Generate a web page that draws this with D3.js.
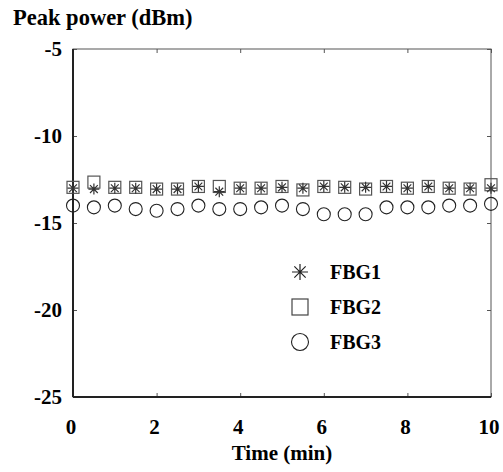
<!DOCTYPE html>
<meta charset="utf-8">
<style>
body { margin: 0; background: #fff; }
</style>
<svg width="503" height="472"></svg>
<script src="https://cdn.jsdelivr.net/npm/d3@7"></script>
<script>

// time axis (minutes) and peak power readings (dBm)
var times = [0, 0.5, 1, 1.5, 2, 2.5, 3, 3.5, 4, 4.5, 5, 5.5, 6, 6.5, 7, 7.5, 8, 8.5, 9, 9.5, 10];
var fbg1 = [-13.0, -13.05, -13.0, -13.0, -13.05, -13.05, -12.9, -13.2, -13.0, -13.0, -12.95,
            -13.0, -12.9, -12.95, -12.95, -12.9, -13.0, -12.9, -13.0, -13.0, -13.0];
var fbg2 = [-12.95, -12.65, -12.95, -12.95, -13.05, -13.05, -12.9, -12.9, -13.0, -13.0, -12.9,
            -13.1, -12.9, -12.95, -13.05, -12.9, -13.0, -12.9, -13.0, -13.05, -12.8];
var fbg3 = [-14.0, -14.1, -14.0, -14.2, -14.3, -14.2, -14.0, -14.2, -14.2, -14.1, -14.0,
            -14.2, -14.5, -14.5, -14.5, -14.1, -14.1, -14.1, -14.0, -14.0, -13.9];
var seriesNames = ["FBG1", "FBG2", "FBG3"];
var xTicks = [0, 2, 4, 6, 8, 10];
var yTicks = [-5, -10, -15, -20, -25];

var FONT = "Liberation Serif";

var svg = d3.select("svg"),
    margin = {top: 49, right: 12, bottom: 75, left: 73},
    width = +svg.attr("width") - margin.left - margin.right,
    height = +svg.attr("height") - margin.top - margin.bottom;

var g = svg.append("g").attr("transform", "translate(" + margin.left + "," + margin.top + ")");

var x = d3.scaleLinear().domain([0, 10]).range([0, width]),
    y = d3.scaleLinear().domain([-25, -5]).range([height, 0]);

// asterisk with 8 arms
function star(r) {
  var d = r * Math.SQRT1_2;
  return "M" + (-r) + ",0L" + r + ",0M0," + (-r) + "L0," + r +
         "M" + (-d) + "," + (-d) + "L" + d + "," + d +
         "M" + (-d) + "," + d + "L" + d + "," + (-d);
}

function label(sel, size) {
  return sel.attr("font-family", FONT).attr("font-weight", "bold")
      .attr("font-size", size).attr("fill", "#000");
}

// frame: thin top/right, heavy left/bottom
g.append("rect").attr("width", width).attr("height", height)
    .attr("fill", "none").attr("stroke", "#555").attr("stroke-width", 1);

// inward ticks on all four sides
g.append("g").attr("transform", "translate(0," + height + ")")
    .call(d3.axisBottom(x).tickValues(xTicks).tickSizeInner(-4).tickSizeOuter(0).tickFormat(""))
    .call(a => a.select(".domain").remove());
g.append("g")
    .call(d3.axisTop(x).tickValues(xTicks).tickSizeInner(-4).tickSizeOuter(0).tickFormat(""))
    .call(a => a.select(".domain").remove());
g.append("g")
    .call(d3.axisLeft(y).tickValues(yTicks).tickSizeInner(-4).tickSizeOuter(0).tickFormat(""))
    .call(a => a.select(".domain").remove());
g.append("g").attr("transform", "translate(" + width + ",0)")
    .call(d3.axisRight(y).tickValues(yTicks).tickSizeInner(-4).tickSizeOuter(0).tickFormat(""))
    .call(a => a.select(".domain").remove());
g.selectAll(".tick line").attr("stroke", "#555");

g.append("line").attr("x1", 0).attr("x2", 0).attr("y1", 0).attr("y2", height)
    .attr("stroke", "#222").attr("stroke-width", 2);
g.append("line").attr("x1", 0).attr("x2", width).attr("y1", height).attr("y2", height)
    .attr("stroke", "#222").attr("stroke-width", 2);

// tick labels
g.selectAll(".xlab").data(xTicks).enter().append("text")
    .attr("x", d => x(d)).attr("dx", -2).attr("y", height + 37)
    .attr("text-anchor", "middle").call(label, 21)
    .text(d => d);
g.selectAll(".ylab").data(yTicks).enter().append("text")
    .attr("x", -11).attr("y", d => y(d)).attr("dy", "0.35em")
    .attr("text-anchor", "end").call(label, 21)
    .text(d => d);

svg.append("text").attr("x", 13).attr("y", 25).call(label, 22.5).text("Peak power (dBm)");
svg.append("text").attr("x", margin.left + width / 2).attr("y", 460)
    .attr("text-anchor", "middle").call(label, 21).text("Time (min)");

// data markers
g.selectAll(".p2").data(fbg2).enter().append("rect")
    .attr("x", (d, i) => x(times[i]) - 6).attr("y", d => y(d) - 6)
    .attr("width", 12).attr("height", 12)
    .attr("fill", "none").attr("stroke", "#555").attr("stroke-width", 1.2);
g.selectAll(".p1").data(fbg1).enter().append("path")
    .attr("transform", (d, i) => "translate(" + x(times[i]) + "," + y(d) + ")")
    .attr("d", star(5.5)).attr("fill", "none").attr("stroke", "#333").attr("stroke-width", 1.2);
g.selectAll(".p3").data(fbg3).enter().append("circle")
    .attr("cx", (d, i) => x(times[i])).attr("cy", d => y(d)).attr("r", 6.5)
    .attr("fill", "none").attr("stroke", "#222").attr("stroke-width", 1.1);

// legend
var leg = svg.append("g").attr("transform", "translate(300,272)");
var item = leg.selectAll("g").data(seriesNames).enter().append("g")
    .attr("transform", (d, i) => "translate(0," + (i * 35) + ")");
item.each(function(d, i) {
  var s = d3.select(this);
  if (i === 0) s.append("path").attr("d", star(8)).attr("fill", "none").attr("stroke", "#222").attr("stroke-width", 1.2);
  if (i === 1) s.append("rect").attr("x", -8).attr("y", -8).attr("width", 16).attr("height", 16)
      .attr("fill", "none").attr("stroke", "#444").attr("stroke-width", 1.2);
  if (i === 2) s.append("circle").attr("r", 8.5).attr("fill", "none").attr("stroke", "#222").attr("stroke-width", 1.1);
});
item.append("text").attr("x", 30).attr("dy", "0.35em").call(label, 20).text(d => d);

</script>
